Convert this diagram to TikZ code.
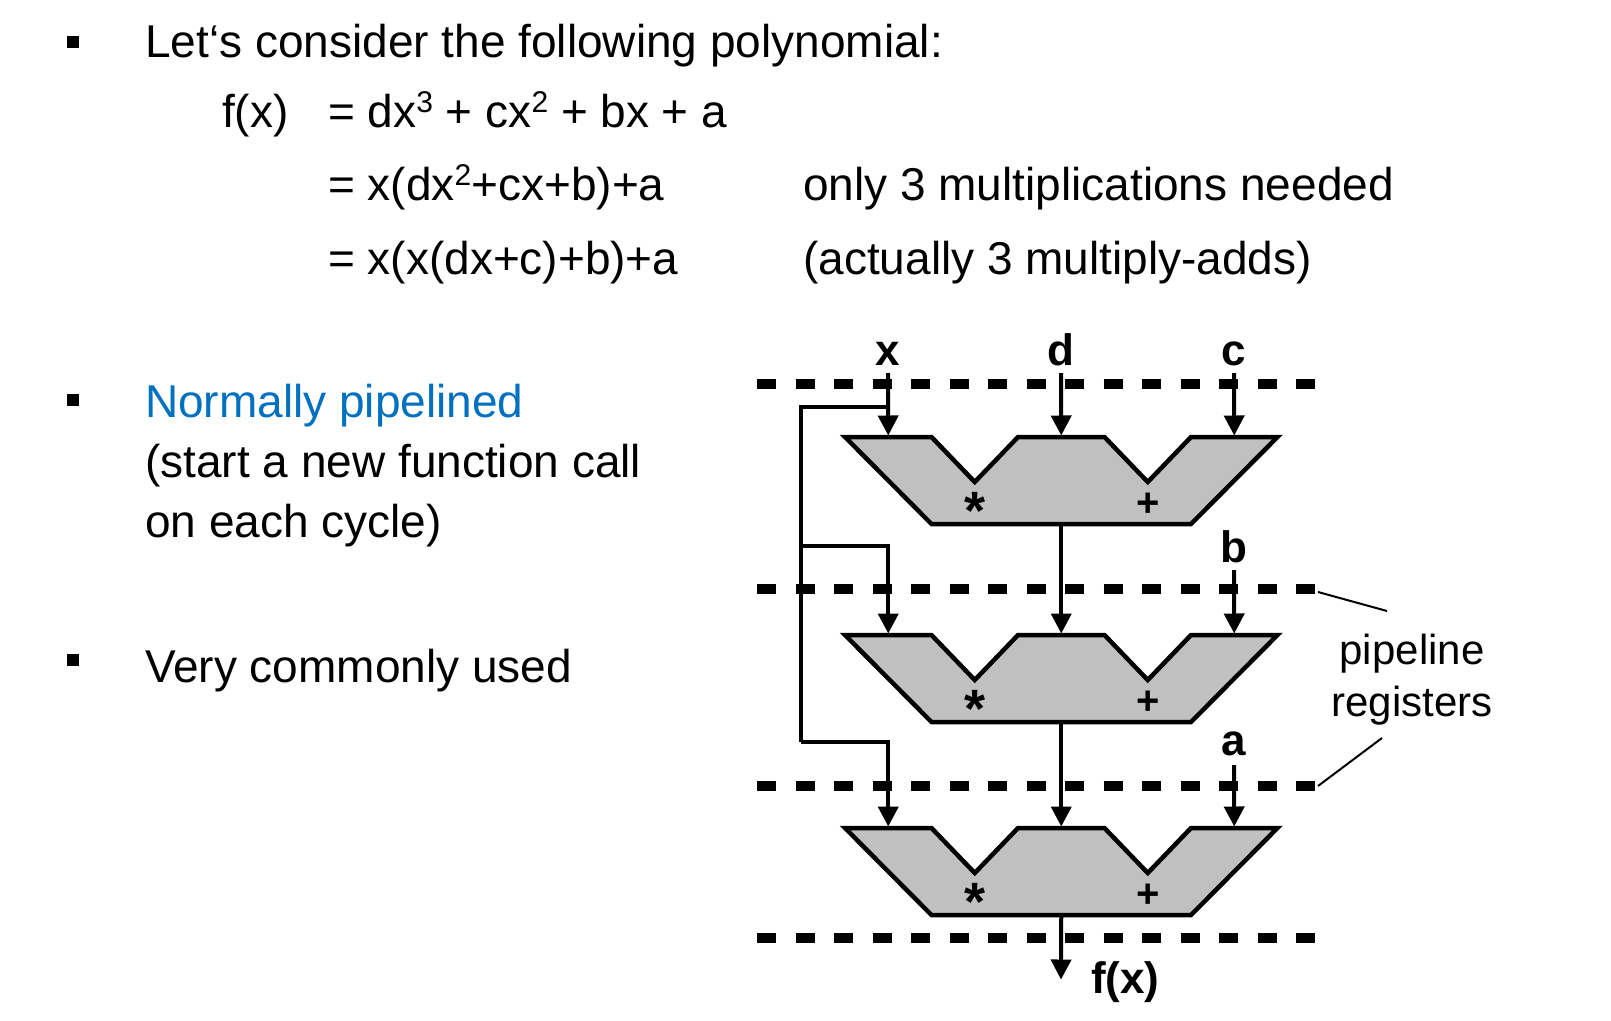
\documentclass[tikz,border=0pt]{standalone}
\usepackage{fontspec}
\setmainfont{Liberation Sans}
\usetikzlibrary{arrows.meta,calc}
\definecolor{normblue}{RGB}{0,112,192}
\definecolor{alugray}{RGB}{192,192,192}
\newcommand\supnum[1]{\raisebox{15pt}{\fontsize{30}{30}\selectfont #1}}
\begin{document}
\begin{tikzpicture}[x=1pt,y=-1pt,
  body/.style={font=\fontsize{46}{55}\selectfont, inner sep=0pt, anchor=base west},
  lbl/.style={font=\fontsize{44}{50}\selectfont\bfseries, inner sep=0pt, anchor=base},
  opsym/.style={font=\fontsize{40}{40}\selectfont\bfseries, inner sep=0pt},
  mulsym/.style={font=\fontsize{54}{54}\selectfont\bfseries, inner sep=0pt},
  regtext/.style={font=\fontsize{42}{50}\selectfont, inner sep=0pt, anchor=base},
  bulletbox/.style={fill=black, minimum size=12pt, inner sep=0pt},
  wire/.style={line width=4pt},
  arr/.style={line width=4pt, shorten >=1.5pt, -{Triangle[length=20pt,width=20pt]}},
  regline/.style={line width=10pt, dash pattern=on 19pt off 19.5pt},
  leader/.style={line width=2pt},
  alubox/.style={draw=black, fill=alugray, line width=4.5pt},
  stage/.pic={
    \draw[alubox] (0,0) -- (86.5,0) -- (129.75,45) -- (173,0) -- (259.5,0)
      -- (302.75,45) -- (346,0) -- (432.5,0) -- (346,87) -- (86.5,87) -- cycle;
    \coordinate (-in1) at (43.25,0);
    \coordinate (-in2) at (216.25,0);
    \coordinate (-in3) at (389.25,0);
    \coordinate (-out) at (216.25,87);
    \node[mulsym] (-mul) at (129.75,74) {*};
    \node[opsym] (-add) at (302.75,68) {+};
  }
]
\useasboundingbox (0,0) rectangle (1611,1020);
\fill[white] (0,0) rectangle (1611,1020);

% ---- text ----
\node[bulletbox] (b1) at (73,42) {};
\node[body] (t1) at (145,57) {Let‘s consider the following polynomial:};
\node[body] (fx) at (222,127) {f(x)};
\node[body] (e1) at (328,127) {= dx\supnum{3} + cx\supnum{2} + bx + a};
\node[body] (e2) at (328,200) {= x(dx\supnum{2}+cx+b)+a};
\node[body] (e3) at (328,274) {= x(x(dx+c)+b)+a};
\node[body] (n1) at (803,200) {only 3 multiplications needed};
\node[body] (n2) at (803,274) {(actually 3 multiply-adds)};

\node[bulletbox] (b2) at (73,400) {};
\node[body, text=normblue] (p1) at (145,417) {Normally pipelined};
\node[body] (p2) at (145,477) {(start a new function call};
\node[body] (p3) at (145,537) {on each cycle)};

\node[bulletbox] (b3) at (73,660) {};
\node[body] (v1) at (145,682) {Very commonly used};

% ---- pipeline registers ----
\draw[regline] (757,384) -- (1315,384);
\draw[regline] (757,589) -- (1315,589);
\draw[regline] (757,786) -- (1315,786);
\draw[regline] (757,938) -- (1315,938);
\coordinate (r2end) at (1318,592);
\coordinate (r3end) at (1318,786);

\node[regtext] (pl1) at (1412,664) {pipeline};
\node[regtext] (pl2) at (1412,716) {registers};
\coordinate (ld1) at (1387,611);
\coordinate (ld2) at (1382,738);
\draw[leader] (r2end) -- (ld1);
\draw[leader] (r3end) -- (ld2);

% ---- stages ----
\pic (s1) at (845,437) {stage};
\pic (s2) at (845,635) {stage};
\pic (s3) at (845,828) {stage};

% ---- labels ----
\node[lbl] (lx) at (888,365) {x};
\node[lbl] (ld) at (1061,365) {d};
\node[lbl] (lc) at (1234,365) {c};
\node[lbl] (lb) at (1234,562) {b};
\node[lbl] (la) at (1234,755) {a};
\node[font=\fontsize{44}{50}\selectfont\bfseries, inner sep=0pt, anchor=base west] (lf) at (1091,993) {f(x)};

% ---- connectors ----
\draw[arr] ([yshift=-8pt]lx.base) -- (s1-in1);
\draw[arr] ([yshift=-8pt]ld.base) -- (s1-in2);
\draw[arr] ([yshift=-8pt]lc.base) -- (s1-in3);
\draw[arr] ([yshift=-8pt]lb.base) -- (s2-in3);
\draw[arr] ([yshift=-10pt]la.base) -- (s3-in3);

\coordinate (tap) at ($(s1-in1)+(0,-30)$);
\coordinate (fb1) at (801,407);
\coordinate (fb2) at (801,546);
\coordinate (fb3) at (801,742);
\draw[wire] (tap) -- (fb1) -- (fb3);
\draw[arr] (fb2) -| (s2-in1);
\draw[arr] (fb3) -| (s3-in1);

\draw[arr] (s1-out) -- (s2-in2);
\draw[arr] (s2-out) -- (s3-in2);
\coordinate (fxtip) at (1061,981);
\draw[arr] (s3-out) -- (fxtip);
\end{tikzpicture}
\end{document}
